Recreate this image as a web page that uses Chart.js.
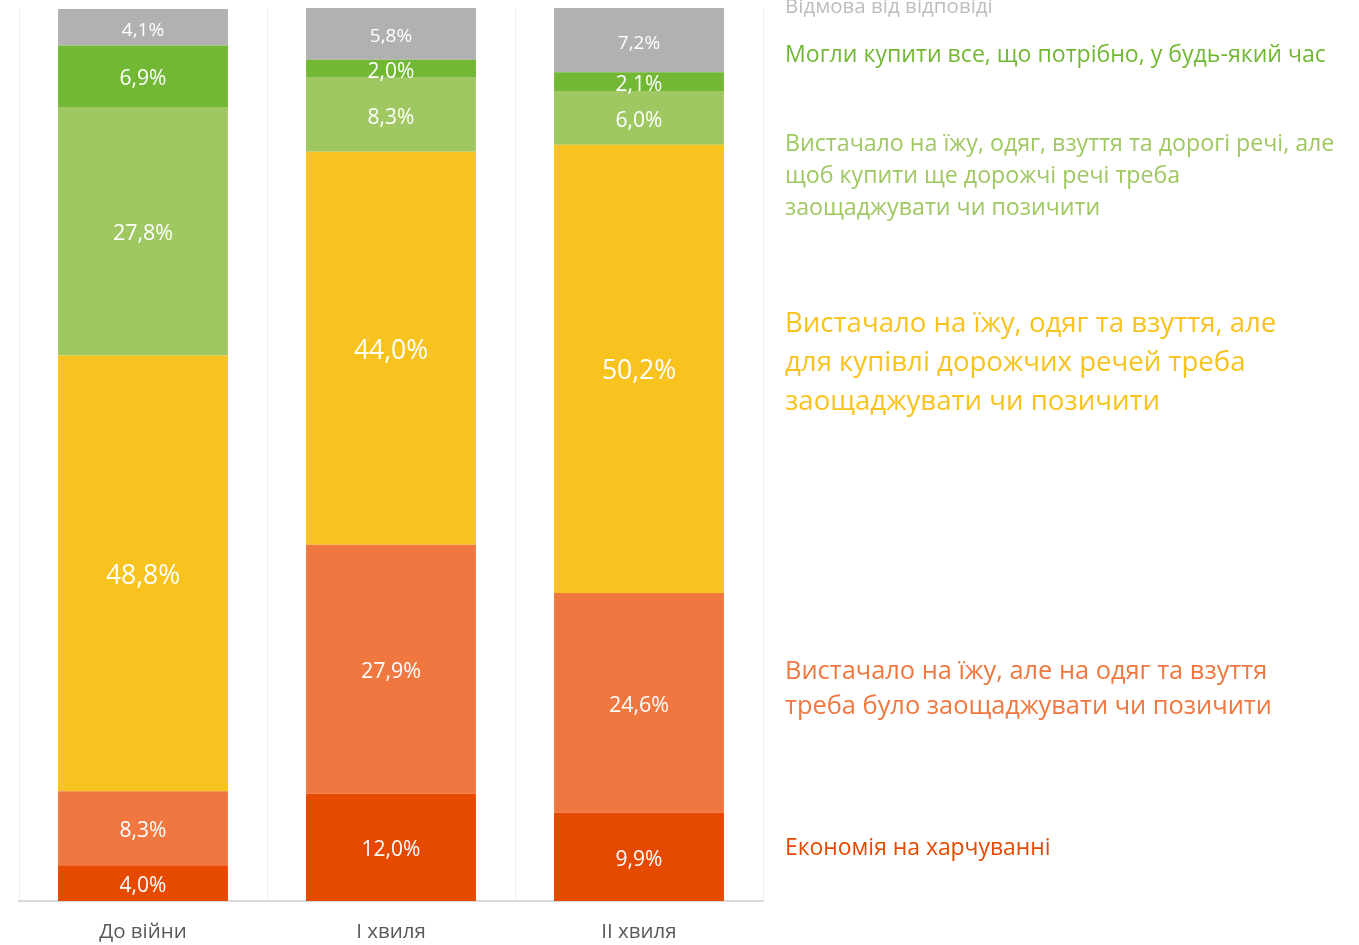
<!DOCTYPE html>
<html>
<head>
<meta charset="utf-8">
<script src="https://cdn.jsdelivr.net/npm/chart.js@4/dist/chart.umd.min.js"></script>
<style>
  html, body { margin: 0; padding: 0; background: #ffffff; }
  #wrap { width: 1359px; height: 945px; position: relative; }
</style>
</head>
<body>
<div id="wrap"><canvas id="c" width="1359" height="945"></canvas></div>
<script>
// ---- Data ----
const categories = ['До війни', 'І хвиля', 'ІІ хвиля'];

const seriesNames = [
  'Економія на харчуванні',
  'Вистачало на їжу, але на одяг та взуття треба було заощаджувати чи позичити',
  'Вистачало на їжу, одяг та взуття, але для купівлі дорожчих речей треба заощаджувати чи позичити',
  'Вистачало на їжу, одяг, взуття та дорогі речі, але щоб купити ще дорожчі речі треба заощаджувати чи позичити',
  'Могли купити все, що потрібно, у будь-який час',
  'Відмова від відповіді'
];

const economyOnFood      = [4.0, 12.0, 9.9];
const foodNotClothes     = [8.3, 27.9, 24.6];
const foodAndClothes     = [48.8, 44.0, 50.2];
const expensiveItems     = [27.8, 8.3, 6.0];
const buyAnything        = [6.9, 2.0, 2.1];
const refused            = [4.1, 5.8, 7.2];

// Legend text lines (as wrapped in the reference)
const legendLines = [
  ['Економія на харчуванні'],
  ['Вистачало на їжу, але на одяг та взуття', 'треба було заощаджувати чи позичити'],
  ['Вистачало на їжу, одяг та взуття, але', 'для купівлі дорожчих речей треба', 'заощаджувати чи позичити'],
  ['Вистачало на їжу, одяг, взуття та дорогі речі, але', 'щоб купити ще дорожчі речі треба', 'заощаджувати чи позичити'],
  ['Могли купити все, що потрібно, у будь-який час'],
  ['Відмова від відповіді']
];

// ---- Styles ----
const colors = ['#E64A00', '#F07840', '#F8C31F', '#9FC862', '#72B834', '#B1B1B1'];
const legendColors = ['#E64A00', '#F07840', '#F8C31F', '#9FC862', '#72B834', '#BDBDBD'];
const legendAnchor = [6.2, 24.0, 60.5, 81.4, 95.0, 100.35]; // value-axis position of each legend block centre
const legendFont = [22.9, 25.4, 27.6, 23.2, 23.1, 20.5];
const legendLineH = [32, 35, 39, 32, 32, 24];
const FONT = '"Open Sans", "Noto Sans", sans-serif';

const allSeries = [economyOnFood, foodNotClothes, foodAndClothes, expensiveItems, buyAnything, refused];

const datasets = allSeries.map((vals, i) => ({
  label: seriesNames[i],
  data: vals,
  backgroundColor: colors[i],
  borderWidth: 0,
  categoryPercentage: 1.0,
  barPercentage: 0.685
}));

function labelSize(dsIndex, v) {
  if (v >= 40) return 26.5;
  if (dsIndex === 5) return 19;
  if (v >= 20) return 21.5;
  return 21;
}

const valueLabels = {
  id: 'valueLabels',
  afterDatasetsDraw(chart) {
    const ctx = chart.ctx;
    ctx.save();
    ctx.textAlign = 'center';
    ctx.textBaseline = 'middle';
    ctx.fillStyle = '#ffffff';
    chart.data.datasets.forEach((ds, di) => {
      const meta = chart.getDatasetMeta(di);
      meta.data.forEach((el, i) => {
        const v = ds.data[i];
        const yMid = (el.y + el.base) / 2;
        ctx.font = labelSize(di, v) + 'px ' + FONT;
        ctx.fillText(v.toFixed(1).replace('.', ',') + '%', el.x, yMid + 3);
      });
    });
    ctx.restore();
  }
};

const sideLegend = {
  id: 'sideLegend',
  afterDraw(chart) {
    const ctx = chart.ctx;
    const y = chart.scales.y;
    const x0 = chart.chartArea.right + 22;
    ctx.save();
    ctx.textAlign = 'left';
    ctx.textBaseline = 'middle';
    legendLines.forEach((lines, i) => {
      ctx.font = legendFont[i] + 'px ' + FONT;
      ctx.fillStyle = legendColors[i];
      const cy = y.getPixelForValue(legendAnchor[i]) + 2.5;
      const lh = legendLineH[i];
      const top = cy - (lines.length - 1) * lh / 2;
      lines.forEach((ln, k) => ctx.fillText(ln, x0, top + k * lh));
    });
    ctx.restore();
  }
};

new Chart(document.getElementById('c'), {
  type: 'bar',
  data: { labels: categories, datasets },
  options: {
    responsive: false,
    animation: false,
    layout: { padding: { left: 19, right: 596, top: 8, bottom: 0 } },
    plugins: {
      legend: { display: false },
      tooltip: { enabled: false }
    },
    scales: {
      x: {
        stacked: true,
        grid: { display: true, color: '#EEEEEE', lineWidth: 1, drawTicks: false, offset: true },
        border: { display: true, color: '#D9D9D9', width: 2 },
        ticks: { color: '#595959', font: { family: FONT, size: 20.5 }, padding: 19 },
        afterFit(scale) { scale.height = 44; }
      },
      y: {
        stacked: true,
        display: false,
        min: 0,
        max: 100
      }
    }
  },
  plugins: [valueLabels, sideLegend]
});
</script>
</body>
</html>
